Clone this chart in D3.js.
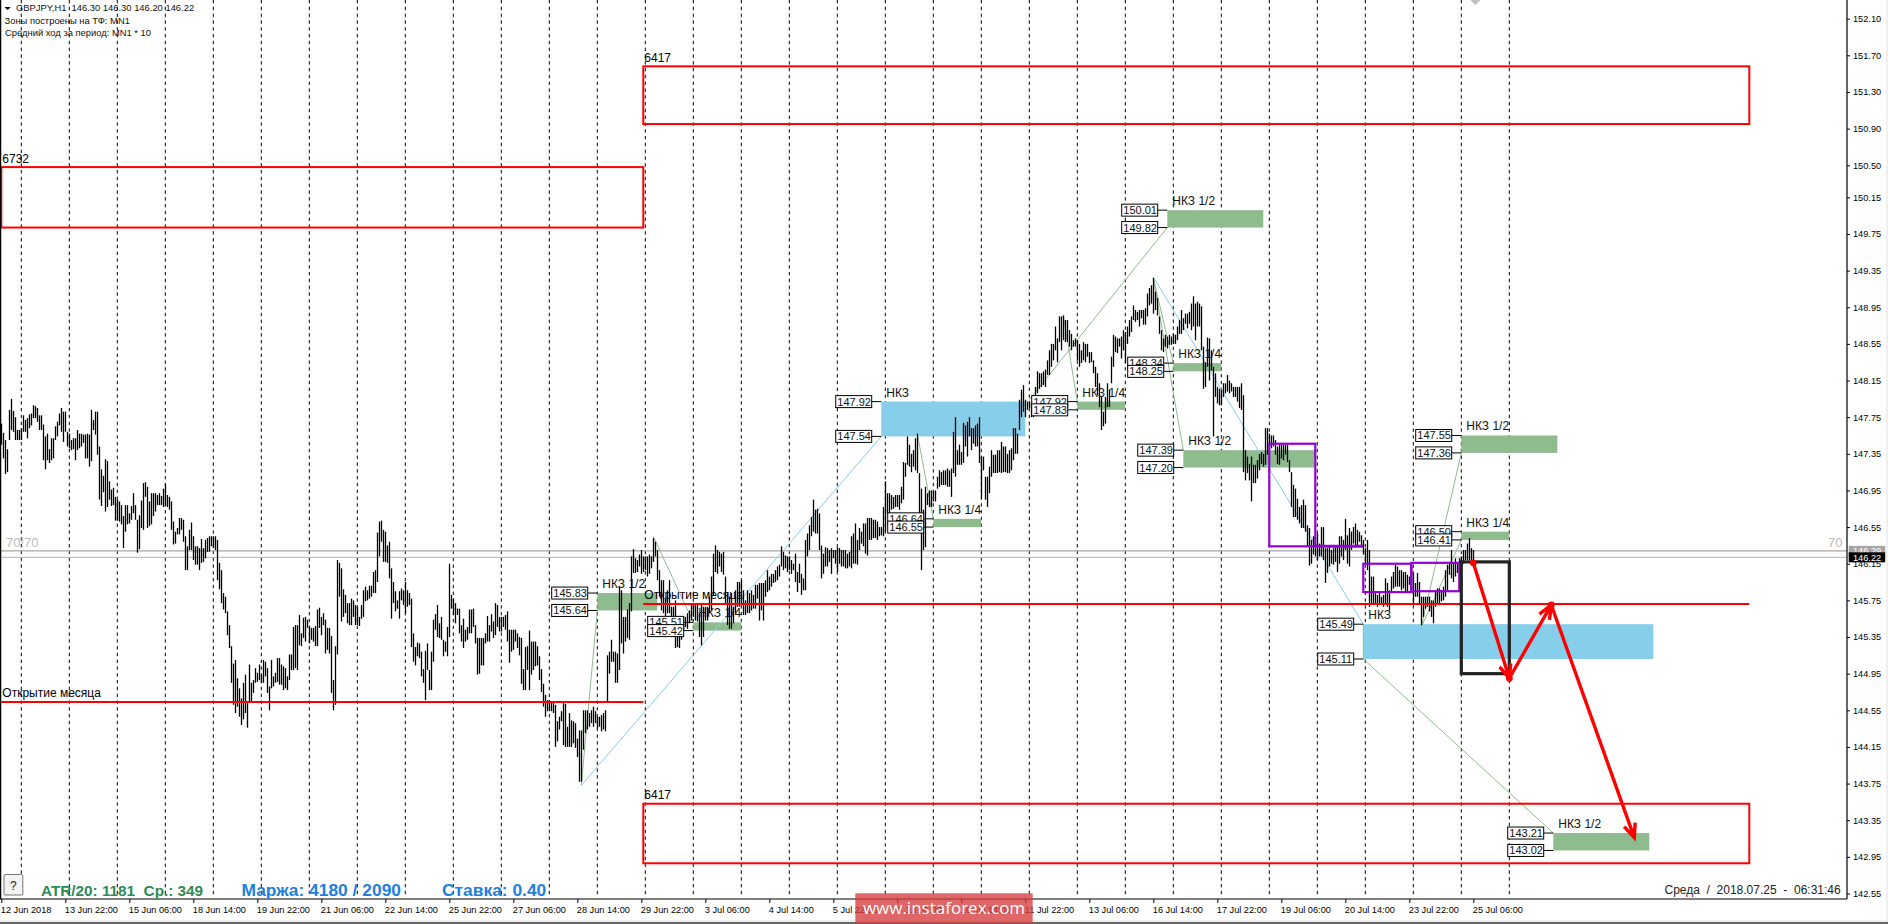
<!DOCTYPE html>
<html>
<head>
<meta charset="utf-8">
<title>GBPJPY H1</title>
<script src="https://cdn.jsdelivr.net/npm/d3@7"></script>
<style>
    html, body { margin: 0; padding: 0; background: #fff; overflow: hidden; }
    svg { display: block; font-family: "Liberation Sans", Arial, sans-serif; }
</style>
</head>
<body>
<div id="chart"></div>
<script>
// Hourly bars, one value per bar
const barHighs = [
    147.68,147.58,147.50,147.40,147.83,147.95,147.82,147.75,147.61,147.61,147.63,147.77,147.72,147.74,147.78,147.79,147.88,147.87,147.85,147.77,147.77,147.67,147.54,147.57,147.40,
    147.52,147.52,147.65,147.70,147.79,147.85,147.81,147.81,147.59,147.57,147.50,147.52,147.52,147.61,147.57,147.57,147.56,147.56,147.57,147.56,147.83,147.72,147.81,147.81,147.43,
    147.18,147.11,147.29,147.27,147.05,146.96,146.98,146.88,146.85,146.83,146.79,146.67,146.79,146.79,146.70,146.78,146.92,146.79,146.63,146.68,146.84,147.03,147.04,146.99,146.83,
    146.92,146.92,146.92,146.90,146.92,146.89,146.97,147.02,146.90,146.88,146.83,146.61,146.50,146.54,146.65,146.65,146.63,146.45,146.34,146.52,146.60,146.45,146.34,146.34,146.32,
    146.42,146.32,146.41,146.43,146.45,146.45,146.45,146.45,146.41,146.16,146.08,145.83,145.79,145.63,145.48,145.25,145.06,145.10,144.90,144.79,144.68,144.85,144.94,144.65,145.05,
    144.85,144.88,145.01,144.96,145.05,144.94,145.10,145.08,145.01,144.81,145.10,144.92,144.96,145.12,145.12,145.05,145.03,145.01,144.92,145.16,145.16,145.46,145.48,145.48,145.59,
    145.39,145.56,145.57,145.54,145.47,145.45,145.45,145.47,145.65,145.67,145.57,145.61,145.54,145.45,145.45,145.36,144.88,145.25,146.19,146.16,146.10,145.87,145.81,145.72,145.72,
    145.77,145.75,145.70,145.68,145.57,145.70,145.86,145.90,145.86,145.91,145.91,146.06,146.08,146.49,146.61,146.62,146.52,146.50,146.35,146.39,146.10,145.95,145.85,145.75,145.85,
    145.88,145.86,145.95,145.86,145.83,145.77,145.39,145.24,145.29,145.28,145.19,145.00,145.20,145.28,144.99,145.19,145.54,145.60,145.70,145.50,145.57,145.32,145.30,145.46,146.15,
    145.81,145.77,145.72,145.66,145.66,145.48,145.55,145.43,145.46,145.65,145.65,145.66,145.48,145.34,145.34,145.34,145.34,145.39,145.58,145.48,145.60,145.52,145.72,145.70,145.57,
    145.57,145.57,145.59,145.63,145.43,145.43,145.43,145.43,145.39,145.35,145.34,145.00,145.24,145.25,145.42,145.30,145.30,145.30,145.25,145.14,145.00,144.84,144.72,144.66,144.66,
    144.63,144.63,144.61,144.43,144.48,144.54,144.63,144.62,144.37,144.52,144.44,144.43,144.41,144.24,144.33,144.33,144.55,144.55,144.55,144.52,144.55,144.59,144.54,144.48,144.48,
    144.50,144.52,144.55,145.15,145.19,145.32,145.19,145.19,145.17,145.90,145.86,145.57,145.57,145.65,145.72,146.23,146.31,146.21,146.19,146.25,
    146.30,146.23,146.23,146.23,146.25,146.23,146.43,146.39,146.30,146.08,145.97,145.97,145.77,145.86,145.97,145.68,145.68,145.75,145.57,145.50,145.57,145.57,145.57,145.61,145.64,
    145.72,145.70,145.72,145.72,145.61,145.72,145.68,145.68,145.68,145.79,146.01,146.26,146.35,146.30,146.28,146.26,146.28,146.01,145.84,145.79,145.83,145.68,145.86,145.95,145.95,
    145.97,145.86,145.75,145.86,145.83,145.86,145.81,145.92,145.92,145.94,145.94,145.94,145.97,146.08,146.01,146.04,146.04,146.08,146.12,146.14,146.34,146.28,146.24,146.23,146.23,
    146.19,146.15,146.26,146.06,146.15,146.04,145.99,146.41,146.48,146.57,146.66,146.85,146.74,146.75,146.70,146.35,146.26,146.33,146.32,146.30,146.32,146.30,146.30,146.33,146.32,
    146.30,146.30,146.30,146.26,146.28,146.45,146.48,146.59,146.41,146.54,146.50,146.59,146.59,146.65,146.65,146.65,146.63,146.63,146.61,146.55,146.55,146.77,147.05,146.92,146.92,
    146.90,146.88,146.90,146.90,146.90,146.99,147.26,147.25,147.54,147.45,147.35,147.39,147.52,147.57,147.14,146.97,146.74,146.99,146.92,146.95,146.95,146.94,146.95,147.10,147.17,
    147.15,147.17,147.17,147.19,147.17,147.19,147.59,147.75,147.39,147.45,147.37,147.69,147.66,147.70,147.75,147.63,147.63,147.66,147.68,147.75,147.32,147.32,147.10,147.10,147.21,
    147.39,147.34,147.34,147.39,147.39,147.48,147.43,147.43,147.35,147.39,147.41,147.63,147.63,147.57,147.94,148.05,148.10,147.94,147.92,147.92,147.90,147.92,148.08,148.25,148.23,
    148.23,148.25,148.27,148.37,148.48,
    148.55,148.55,148.74,148.61,148.85,148.85,148.86,148.81,148.81,148.70,148.66,148.59,148.61,148.59,148.55,148.48,148.57,148.55,148.55,148.46,148.46,148.37,148.30,148.23,148.12,
    147.97,147.81,147.97,148.12,148.05,148.41,148.65,148.63,148.61,148.61,148.63,148.70,148.68,148.74,148.81,148.85,148.97,148.92,148.90,148.92,148.92,148.92,148.94,149.10,149.16,
    149.19,149.27,149.12,149.05,148.85,148.70,148.61,148.65,148.63,148.65,148.63,148.66,148.65,148.74,148.81,148.92,148.83,148.88,148.88,148.90,148.99,149.07,148.99,149.01,148.99,
    148.96,148.52,148.35,148.62,148.61,148.48,148.30,148.23,148.08,148.06,148.05,148.12,148.12,148.21,148.15,148.12,148.08,148.08,148.08,148.08,148.12,147.99,147.39,147.32,147.24,
    147.32,147.23,147.23,147.28,147.35,147.37,147.35,147.63,147.63,147.57,147.55,147.55,147.50,147.43,147.45,147.45,147.45,147.45,147.45,147.28,147.15,147.01,146.97,146.86,
    146.77,146.79,146.85,146.79,146.57,146.54,146.41,146.45,146.37,146.48,146.37,146.55,146.55,146.32,146.32,146.34,146.30,146.32,146.35,146.34,146.45,146.45,146.41,146.64,146.46,
    146.54,146.50,146.55,146.59,146.52,146.50,146.46,146.41,146.32,146.41,146.30,146.01,146.01,145.83,145.81,145.83,145.79,145.81,145.99,145.94,145.86,146.01,146.06,146.14,146.12,
    146.08,146.08,146.06,146.06,146.03,146.01,146.12,146.05,145.94,146.05,145.95,145.79,145.79,145.79,145.79,145.79,145.75,145.75,145.86,145.88,145.88,145.86,145.90,146.08,146.14,
    146.15,146.30,146.17,146.21,146.15,146.21,146.23,146.30,146.30,146.37,146.43,146.32,146.30
];
const barLows = [
    147.45,147.30,147.13,147.15,147.50,147.61,147.59,147.50,147.50,147.50,147.50,147.59,147.59,147.52,147.63,147.66,147.74,147.74,147.70,147.61,147.61,147.28,147.18,147.28,147.25,
    147.28,147.30,147.50,147.54,147.66,147.59,147.48,147.59,147.43,147.41,147.39,147.40,147.28,147.39,147.41,147.43,147.47,147.30,147.30,147.21,147.27,147.61,147.56,147.34,146.85,
    146.78,146.93,146.72,146.77,146.85,146.78,146.79,146.62,146.62,146.61,146.58,146.32,146.50,146.58,146.59,146.63,146.70,146.63,146.27,146.31,146.54,146.52,146.88,146.54,146.56,
    146.58,146.67,146.72,146.79,146.79,146.79,146.77,146.78,146.77,146.74,146.52,146.36,146.37,146.47,146.47,146.52,146.39,146.08,146.08,146.30,146.30,146.19,146.14,146.14,146.08,
    146.16,146.17,146.21,146.28,146.28,146.34,146.32,146.30,145.97,145.87,145.72,145.65,145.61,145.37,145.23,144.85,144.61,144.52,144.59,144.48,144.39,144.45,144.52,144.36,144.65,
    144.65,144.74,144.85,144.86,144.88,144.85,144.85,144.92,144.74,144.55,144.79,144.81,144.85,144.86,144.83,144.83,144.77,144.79,144.77,144.88,144.99,144.99,145.01,144.99,145.26,
    145.25,145.34,145.30,145.45,145.28,145.32,145.30,145.25,145.25,145.45,145.37,145.48,145.17,145.21,145.17,144.74,144.55,144.61,145.16,145.79,145.52,145.57,145.61,145.50,145.48,
    145.48,145.57,145.48,145.48,145.47,145.55,145.57,145.74,145.75,145.77,145.79,145.83,145.83,145.95,146.23,146.39,146.17,146.17,146.16,145.99,145.55,145.72,145.63,145.66,145.55,
    145.75,145.70,145.61,145.68,145.70,145.24,145.08,145.04,145.14,145.12,144.92,144.85,144.66,144.99,144.77,144.77,145.08,145.43,145.35,145.34,145.32,145.14,145.19,145.14,145.35,
    145.66,145.59,145.50,145.59,145.39,145.30,145.23,145.30,145.32,145.39,145.39,145.46,145.28,144.94,144.95,145.04,145.04,145.28,145.30,145.30,145.41,145.34,145.37,145.46,145.41,
    145.41,145.46,145.43,145.30,145.07,145.19,145.21,145.30,145.23,145.15,144.84,144.77,144.77,144.99,144.77,144.94,144.99,145.03,145.04,144.88,144.75,144.59,144.48,144.54,144.54,
    144.54,144.52,144.15,144.21,144.34,144.43,144.17,144.15,144.15,144.15,144.15,144.19,144.14,144.04,143.77,143.77,144.12,144.30,144.34,144.37,144.41,144.37,144.41,144.35,144.37,
    144.32,144.34,144.32,144.64,144.95,145.08,145.08,144.85,144.85,144.99,145.28,145.17,145.30,145.34,145.32,145.63,146.05,146.05,146.06,146.12,
    146.04,146.06,146.08,146.01,146.04,146.10,146.17,146.23,145.97,145.79,145.64,145.61,145.53,145.61,145.61,145.46,145.43,145.23,145.24,145.23,145.32,145.43,145.46,145.44,145.50,
    145.53,145.57,145.53,145.52,145.35,145.26,145.35,145.53,145.53,145.61,145.64,145.81,146.06,146.04,146.12,146.06,146.03,145.72,145.48,145.44,145.44,145.50,145.61,145.68,145.68,
    145.72,145.59,145.59,145.61,145.61,145.64,145.66,145.66,145.77,145.53,145.64,145.53,145.79,145.84,145.86,145.90,145.94,145.95,145.97,146.01,146.12,146.08,146.10,146.06,146.08,
    146.04,146.08,145.95,145.84,145.94,145.81,145.86,145.86,146.23,146.30,146.45,146.50,146.48,146.48,146.30,145.99,146.04,146.12,146.12,146.17,146.04,146.21,146.15,146.06,146.15,
    146.12,146.12,146.10,146.10,146.12,146.10,146.15,146.15,146.14,146.30,146.37,146.34,146.26,146.24,146.41,146.41,146.43,146.43,146.41,146.45,146.46,146.45,146.50,146.70,146.63,
    146.74,146.75,146.77,146.77,146.74,146.81,146.85,147.10,147.23,147.21,147.15,147.21,147.17,147.14,146.63,146.08,146.30,146.33,146.79,146.77,146.77,146.83,146.83,146.97,146.99,
    147.01,147.01,147.01,146.99,146.99,146.88,147.14,147.10,147.23,147.23,147.23,147.25,147.43,147.32,147.54,147.39,147.46,147.43,147.43,147.25,146.86,147.17,146.85,146.77,146.92,
    147.10,147.14,147.14,147.14,147.15,147.14,147.15,147.15,147.14,147.14,147.17,147.28,147.35,147.35,147.61,147.75,147.81,147.75,147.83,147.85,147.75,147.75,147.77,148.01,148.06,
    148.08,148.10,148.08,148.21,148.21,
    148.30,148.37,148.48,148.35,148.57,148.48,148.59,148.57,148.57,148.52,148.48,148.52,148.52,148.37,148.30,148.34,148.37,148.35,148.41,148.34,148.35,148.23,148.08,147.99,147.86,
    147.61,147.65,147.68,147.86,147.86,148.12,148.30,148.46,148.45,148.52,148.39,148.48,148.34,148.55,148.63,148.68,148.81,148.79,148.81,148.74,148.83,148.76,148.76,148.85,148.97,
    148.99,148.88,148.92,148.86,148.66,148.48,148.46,148.52,148.50,148.54,148.54,148.55,148.55,148.59,148.66,148.66,148.70,148.77,148.72,148.77,148.70,148.74,148.59,148.74,148.74,
    148.48,148.06,148.08,148.30,148.15,148.26,147.54,147.97,147.90,147.88,147.88,147.97,148.01,148.03,148.01,148.03,147.97,147.97,147.92,147.85,147.83,147.15,147.06,147.14,147.06,
    146.83,147.03,147.03,147.08,147.17,147.24,147.21,147.23,147.34,147.43,147.41,147.43,147.34,147.24,147.23,147.30,147.28,147.34,147.26,147.15,146.77,146.66,146.66,146.63,
    146.59,146.54,146.54,146.50,146.34,146.13,146.15,146.25,146.23,146.19,146.23,146.23,146.19,145.94,146.05,146.12,146.15,146.14,146.17,146.06,146.15,146.23,146.19,146.30,146.15,
    146.12,146.30,146.37,146.34,146.34,146.39,146.34,146.25,146.15,146.08,145.68,145.72,145.70,145.72,145.68,145.72,145.70,145.68,145.72,145.68,145.64,145.83,145.88,145.90,145.90,
    145.90,145.86,145.88,145.83,145.83,145.92,145.83,145.72,145.79,145.79,145.72,145.48,145.57,145.66,145.68,145.63,145.57,145.50,145.68,145.72,145.72,145.74,145.75,145.79,145.86,
    146.03,145.99,145.95,146.01,146.05,146.12,146.15,146.15,146.19,146.19,146.19,146.19,146.19
];

// Axis labels
const timeTickBars = [0, 32, 64, 96, 128, 160, 192, 224, 256, 288, 320, 352, 384, 416, 448, 480, 512, 544, 576, 608, 640, 672, 704, 736];
const timeTickLabels = ['12 Jun 2018', '13 Jun 22:00', '15 Jun 06:00', '18 Jun 14:00', '19 Jun 22:00', '21 Jun 06:00', '22 Jun 14:00', '25 Jun 22:00',
    '27 Jun 06:00', '28 Jun 14:00', '29 Jun 22:00', '3 Jul 06:00', '4 Jul 14:00', '5 Jul 22:00', '9 Jul 06:00', '10 Jul 14:00',
    '11 Jul 22:00', '13 Jul 06:00', '16 Jul 14:00', '17 Jul 22:00', '19 Jul 06:00', '20 Jul 14:00', '23 Jul 22:00', '25 Jul 06:00'];
const priceTicks = [152.10, 151.70, 151.30, 150.90, 150.50, 150.15, 149.75, 149.35, 148.95, 148.55, 148.15, 147.75, 147.35,
    146.95, 146.55, 146.15, 145.75, 145.35, 144.95, 144.55, 144.15, 143.75, 143.35, 142.95, 142.55];
const dayLineBars = d3.range(10, 755, 24);

// Zones: label, kind, top price, bottom price, first bar, last bar
const zones = [
    ['НКЗ 1/2', 'green', 145.83, 145.64, 298, 328],
    ['НКЗ 1/4', 'green', 145.51, 145.42, 346, 370],
    ['НКЗ', 'blue', 147.92, 147.54, 440, 512],
    ['НКЗ 1/4', 'green', 146.64, 146.55, 466, 490],
    ['НКЗ 1/4', 'green', 147.92, 147.83, 538, 562],
    ['НКЗ 1/2', 'green', 150.01, 149.82, 583, 631],
    ['НКЗ 1/4', 'green', 148.34, 148.25, 586, 610],
    ['НКЗ 1/2', 'green', 147.39, 147.20, 591, 657],
    ['НКЗ 1/2', 'green', 147.55, 147.36, 730, 778],
    ['НКЗ 1/4', 'green', 146.50, 146.41, 730, 754],
    ['НКЗ', 'blue', 145.49, 145.11, 681, 826],
    ['НКЗ 1/2', 'green', 143.21, 143.02, 776, 824]
];

// Thin links between swing points and zones: bar, price, bar, price
const blueLinks = [
    [290, 143.73, 440, 147.54],
    [576, 149.28, 681, 145.49]
];
const greenLinks = [
    [290, 143.73, 298, 145.64],
    [326, 146.45, 346, 145.51],
    [458, 147.57, 466, 146.64],
    [514, 147.94, 583, 149.82],
    [531, 148.86, 538, 147.92],
    [576, 149.27, 586, 148.34],
    [576, 149.27, 591, 147.39],
    [710, 145.46, 730, 147.36],
    [710, 145.46, 730, 146.41],
    [681, 145.49, 681, 145.11],
    [681, 145.11, 776, 143.21]
];

// Monthly boxes: label, top price, bottom price, first bar, last bar
const monthBoxes = [
    ['6417', 151.58, 150.95, 321, 874],
    ['6732', 150.48, 149.82, 0, 321],
    ['6417', 143.53, 142.88, 321, 874]
];
// Month open lines: price, first bar, last bar
const monthOpens = [
    [144.64, 0, 321],
    [145.71, 321, 874]
];
// Hand drawn frames: first bar, last bar, top price, bottom price
const purpleFrames = [
    [634, 657, 147.46, 146.34],
    [681, 705, 146.15, 145.84],
    [705, 729, 146.16, 145.85]
];
const purpleLine = [657, 681, 146.34];
const forecastFrame = [730, 754, 146.17, 144.95];
const forecastBars = [736, 754, 775, 816.5];
const forecastPrices = [146.16, 144.90, 145.70, 143.16];

const askPrice = 146.29;
const bidPrice = 146.22;

const WIDTH = 1888;
const HEIGHT = 924;
const PLOT_RIGHT = 1847;
const PLOT_BOTTOM = 899;
const INK = '#000';
const RED = '#ff0000';
const ZONE_COLORS = { green: '#8fbc8f', blue: '#87ceeb' };

const svg = d3.select('#chart')
    .append('svg')
    .attr('width', WIDTH)
    .attr('height', HEIGHT);

const x = d3.scaleLinear().domain([0, 736]).range([1.3, 1473.3]);
const y = d3.scaleLinear().domain([142.55, 152.10]).range([893.5, 18.7]);

// Day separators
svg.append('g').selectAll('line')
    .data(dayLineBars)
    .join('line')
    .attr('x1', d => x(d)).attr('x2', d => x(d))
    .attr('y1', 0).attr('y2', 896)
    .attr('stroke', INK)
    .attr('stroke-dasharray', '3.4,3.4');

// Zone rectangles sit under the bars
svg.append('g').selectAll('rect')
    .data(zones)
    .join('rect')
    .attr('x', d => x(d[4]))
    .attr('y', d => y(d[2]))
    .attr('width', d => x(d[5]) - x(d[4]))
    .attr('height', d => y(d[3]) - y(d[2]))
    .attr('fill', d => ZONE_COLORS[d[1]]);

function drawLinks(rows, color) {
    svg.append('g').selectAll('line')
        .data(rows)
        .join('line')
        .attr('x1', d => x(d[0])).attr('y1', d => y(d[1]))
        .attr('x2', d => x(d[2])).attr('y2', d => y(d[3]))
        .attr('stroke', color)
        .attr('stroke-width', 1);
}
drawLinks(blueLinks, ZONE_COLORS.blue);
drawLinks(greenLinks, ZONE_COLORS.green);

// Ask and bid lines
svg.append('line')
    .attr('x1', 0).attr('x2', PLOT_RIGHT)
    .attr('y1', y(askPrice)).attr('y2', y(askPrice))
    .attr('stroke', '#a6a6a6').attr('stroke-width', 1.2);
svg.append('line')
    .attr('x1', 0).attr('x2', PLOT_RIGHT)
    .attr('y1', y(bidPrice)).attr('y2', y(bidPrice))
    .attr('stroke', '#c0c0c0').attr('stroke-width', 1.2);

// Bars
svg.append('g')
    .selectAll('line')
    .data(barHighs.map((h, i) => [i, h, barLows[i]]))
    .join('line')
    .attr('x1', d => Math.round(x(d[0])) + 0.5)
    .attr('x2', d => Math.round(x(d[0])) + 0.5)
    .attr('y1', d => y(d[1]))
    .attr('y2', d => y(d[2]))
    .attr('stroke', INK)
    .attr('stroke-width', 1.3);

// Monthly boxes and month open lines
svg.append('g').selectAll('rect')
    .data(monthBoxes)
    .join('rect')
    .attr('x', d => x(d[3]))
    .attr('y', d => y(d[1]))
    .attr('width', d => x(d[4]) - x(d[3]))
    .attr('height', d => y(d[2]) - y(d[1]))
    .attr('fill', 'none')
    .attr('stroke', RED)
    .attr('stroke-width', 2);
svg.append('g').selectAll('text')
    .data(monthBoxes)
    .join('text')
    .attr('x', d => x(d[3]) + 1)
    .attr('y', d => y(d[1]) - 4.5)
    .attr('font-size', 12)
    .attr('fill', INK)
    .text(d => d[0]);

svg.append('g').selectAll('line')
    .data(monthOpens)
    .join('line')
    .attr('x1', d => x(d[1])).attr('x2', d => x(d[2]))
    .attr('y1', d => y(d[0])).attr('y2', d => y(d[0]))
    .attr('stroke', RED)
    .attr('stroke-width', 2);
svg.append('g').selectAll('text')
    .data(monthOpens)
    .join('text')
    .attr('x', d => x(d[1]) + 1)
    .attr('y', d => y(d[0]) - 5)
    .attr('font-size', 12)
    .attr('fill', INK)
    .text('Открытие месяца');

// Purple frames
svg.append('g').selectAll('rect')
    .data(purpleFrames)
    .join('rect')
    .attr('x', d => x(d[0]))
    .attr('y', d => y(d[2]))
    .attr('width', d => x(d[1]) - x(d[0]))
    .attr('height', d => y(d[3]) - y(d[2]))
    .attr('fill', 'none')
    .attr('stroke', '#9400d3')
    .attr('stroke-width', 2.2);
svg.append('line')
    .attr('x1', x(purpleLine[0])).attr('x2', x(purpleLine[1]))
    .attr('y1', y(purpleLine[2])).attr('y2', y(purpleLine[2]))
    .attr('stroke', '#9400d3')
    .attr('stroke-width', 3);

svg.append('rect')
    .attr('x', x(forecastFrame[0]))
    .attr('y', y(forecastFrame[2]))
    .attr('width', x(forecastFrame[1]) - x(forecastFrame[0]))
    .attr('height', y(forecastFrame[3]) - y(forecastFrame[2]))
    .attr('fill', 'none')
    .attr('stroke', '#222')
    .attr('stroke-width', 3.2);

// Zone captions and price tags
const tagLayer = svg.append('g');
zones.forEach(z => {
    const left = x(z[4]);
    tagLayer.append('text')
        .attr('x', left + 5)
        .attr('y', y(z[2]) - 5)
        .attr('font-size', 12)
        .attr('fill', '#111')
        .text(z[0]);
    [z[2], z[3]].forEach(price => {
        const py = y(price);
        tagLayer.append('line')
            .attr('x1', left - 10).attr('x2', left)
            .attr('y1', py).attr('y2', py)
            .attr('stroke', INK);
        tagLayer.append('rect')
            .attr('x', left - 45.6).attr('y', py - 6)
            .attr('width', 36).attr('height', 12)
            .attr('fill', '#fff')
            .attr('stroke', INK);
        tagLayer.append('text')
            .attr('x', left - 44).attr('y', py + 4)
            .attr('font-size', 11)
            .attr('fill', '#111')
            .text(price.toFixed(2));
    });
});

// Forecast arrows
const forecast = forecastBars.map((b, i) => [x(b), y(forecastPrices[i])]);
const BARB = 15;
const BARB_ANGLE = 0.4;
const arrowLayer = svg.append('g')
    .attr('stroke', RED)
    .attr('stroke-width', 3.4)
    .attr('fill', 'none');
d3.pairs(forecast).forEach(([a, b]) => {
    const angle = Math.atan2(b[1] - a[1], b[0] - a[0]);
    const barb = d => [b[0] - BARB * Math.cos(angle + d), b[1] - BARB * Math.sin(angle + d)];
    const l = barb(BARB_ANGLE);
    const r = barb(-BARB_ANGLE);
    arrowLayer.append('path')
        .attr('d', `M${a[0]},${a[1]}L${b[0]},${b[1]}M${l[0]},${l[1]}L${b[0]},${b[1]}L${r[0]},${r[1]}`);
});
svg.append('g').selectAll('circle')
    .data(forecast.slice(0, 3))
    .join('circle')
    .attr('cx', d => d[0]).attr('cy', d => d[1])
    .attr('r', 3.4)
    .attr('fill', RED);

// Axes
const priceAxis = svg.append('g')
    .attr('transform', `translate(${PLOT_RIGHT},0)`)
    .call(d3.axisRight(y).tickValues(priceTicks).tickFormat(d3.format('.2f')).tickSize(3).tickPadding(3));
priceAxis.select('.domain').remove();
priceAxis.selectAll('text').attr('font-size', 9.2).attr('font-family', '"Liberation Sans", Arial, sans-serif').attr('fill', INK);

const timeAxis = svg.append('g')
    .attr('transform', `translate(0,${PLOT_BOTTOM})`)
    .call(d3.axisBottom(x).tickValues(timeTickBars).tickFormat((d, i) => timeTickLabels[i]).tickSize(4).tickPadding(3));
timeAxis.select('.domain').remove();
timeAxis.selectAll('text')
    .attr('font-size', 9.2)
    .attr('font-family', '"Liberation Sans", Arial, sans-serif')
    .attr('text-anchor', 'start')
    .attr('x', -1)
    .attr('fill', INK);

// Frame
svg.append('line').attr('x1', PLOT_RIGHT).attr('x2', PLOT_RIGHT).attr('y1', 0).attr('y2', PLOT_BOTTOM).attr('stroke', INK).attr('stroke-width', 1.2);
svg.append('line').attr('x1', 0).attr('x2', PLOT_RIGHT).attr('y1', PLOT_BOTTOM).attr('y2', PLOT_BOTTOM).attr('stroke', INK).attr('stroke-width', 1.2);
svg.append('line').attr('x1', 0.5).attr('x2', 0.5).attr('y1', 0).attr('y2', PLOT_BOTTOM).attr('stroke', INK).attr('stroke-width', 1.5);
svg.append('line').attr('x1', 0).attr('x2', WIDTH).attr('y1', 921).attr('y2', 921).attr('stroke', '#e0e0e0');
svg.append('line').attr('x1', 0).attr('x2', WIDTH).attr('y1', 923).attr('y2', 923).attr('stroke', '#333').attr('stroke-width', 1.5);
svg.append('line').attr('x1', 1887).attr('x2', 1887).attr('y1', 0).attr('y2', 921).attr('stroke', '#e0e0e0');

// Price tags on the axis
[[askPrice, '#a6a6a6'], [bidPrice, '#000']].forEach(([price, color]) => {
    svg.append('rect')
        .attr('x', 1848.7).attr('y', y(price) - 5)
        .attr('width', 36.5).attr('height', 10)
        .attr('fill', color);
    svg.append('text')
        .attr('x', 1853).attr('y', y(price) + 3.5)
        .attr('font-size', 9.2)
        .attr('fill', '#fff')
        .text(price.toFixed(2));
});
svg.append('text').attr('x', 1828).attr('y', 547).attr('font-size', 13).attr('fill', '#bbb').text('70');
svg.append('text').attr('x', 6).attr('y', 547).attr('font-size', 13).attr('fill', '#bbb').text('70!70');

// Diamond cut off at the top edge
svg.append('path')
    .attr('d', `M${x(737) - 5},0L${x(737) + 5},0L${x(737)},5Z`)
    .attr('fill', '#c0c0c0');

// Header text
svg.append('path').attr('d', 'M4.5,7L10.7,7L7.6,10Z').attr('fill', INK);
const headerLines = [
    ['GBPJPY,H1  146.30 146.30 146.20 146.22', 16, 10.7],
    ['Зоны построены на ТФ: MN1', 4.5, 24],
    ['Средний ход за период: MN1 * 10', 5, 35.7]
];
svg.append('g').selectAll('text')
    .data(headerLines)
    .join('text')
    .attr('x', d => d[1])
    .attr('y', d => d[2])
    .attr('font-size', 9.4)
    .attr('xml:space', 'preserve')
    .attr('fill', '#111')
    .text(d => d[0]);

// Status line
svg.append('rect')
    .attr('x', 4).attr('y', 874.5)
    .attr('width', 18.8).attr('height', 20.5)
    .attr('rx', 1)
    .attr('fill', '#f4f4f4')
    .attr('stroke', '#777');
svg.append('text').attr('x', 10).attr('y', 890).attr('font-size', 12).attr('fill', '#222').text('?');
const statusLines = [
    ['ATR/20: 1181  Ср.: 349', 41, 15.3, '#2e8b57'],
    ['Маржа: 4180 / 2090', 241.5, 17.4, '#1e7fe0'],
    ['Ставка: 0.40', 442, 17.4, '#1e7fe0']
];
svg.append('g').selectAll('text')
    .data(statusLines)
    .join('text')
    .attr('x', d => d[1])
    .attr('y', 896)
    .attr('font-size', d => d[2])
    .attr('font-weight', 700)
    .attr('xml:space', 'preserve')
    .attr('fill', d => d[3])
    .text(d => d[0]);

svg.append('text')
    .attr('x', 1840.7).attr('y', 894)
    .attr('text-anchor', 'end')
    .attr('font-size', 12)
    .attr('xml:space', 'preserve')
    .attr('fill', '#222')
    .text('Среда  /  2018.07.25  -  06:31:46');

// Site watermark
svg.append('rect')
    .attr('x', 855.3).attr('y', 893.3)
    .attr('width', 177.4).attr('height', 29.7)
    .attr('fill', 'rgba(214, 60, 60, 0.78)');
svg.append('text')
    .attr('x', 944).attr('y', 914)
    .attr('text-anchor', 'middle')
    .attr('font-family', '"Open Sans", sans-serif')
    .attr('font-size', 17)
    .attr('fill', '#fff')
    .text('www.instaforex.com');
</script>
</body>
</html>
